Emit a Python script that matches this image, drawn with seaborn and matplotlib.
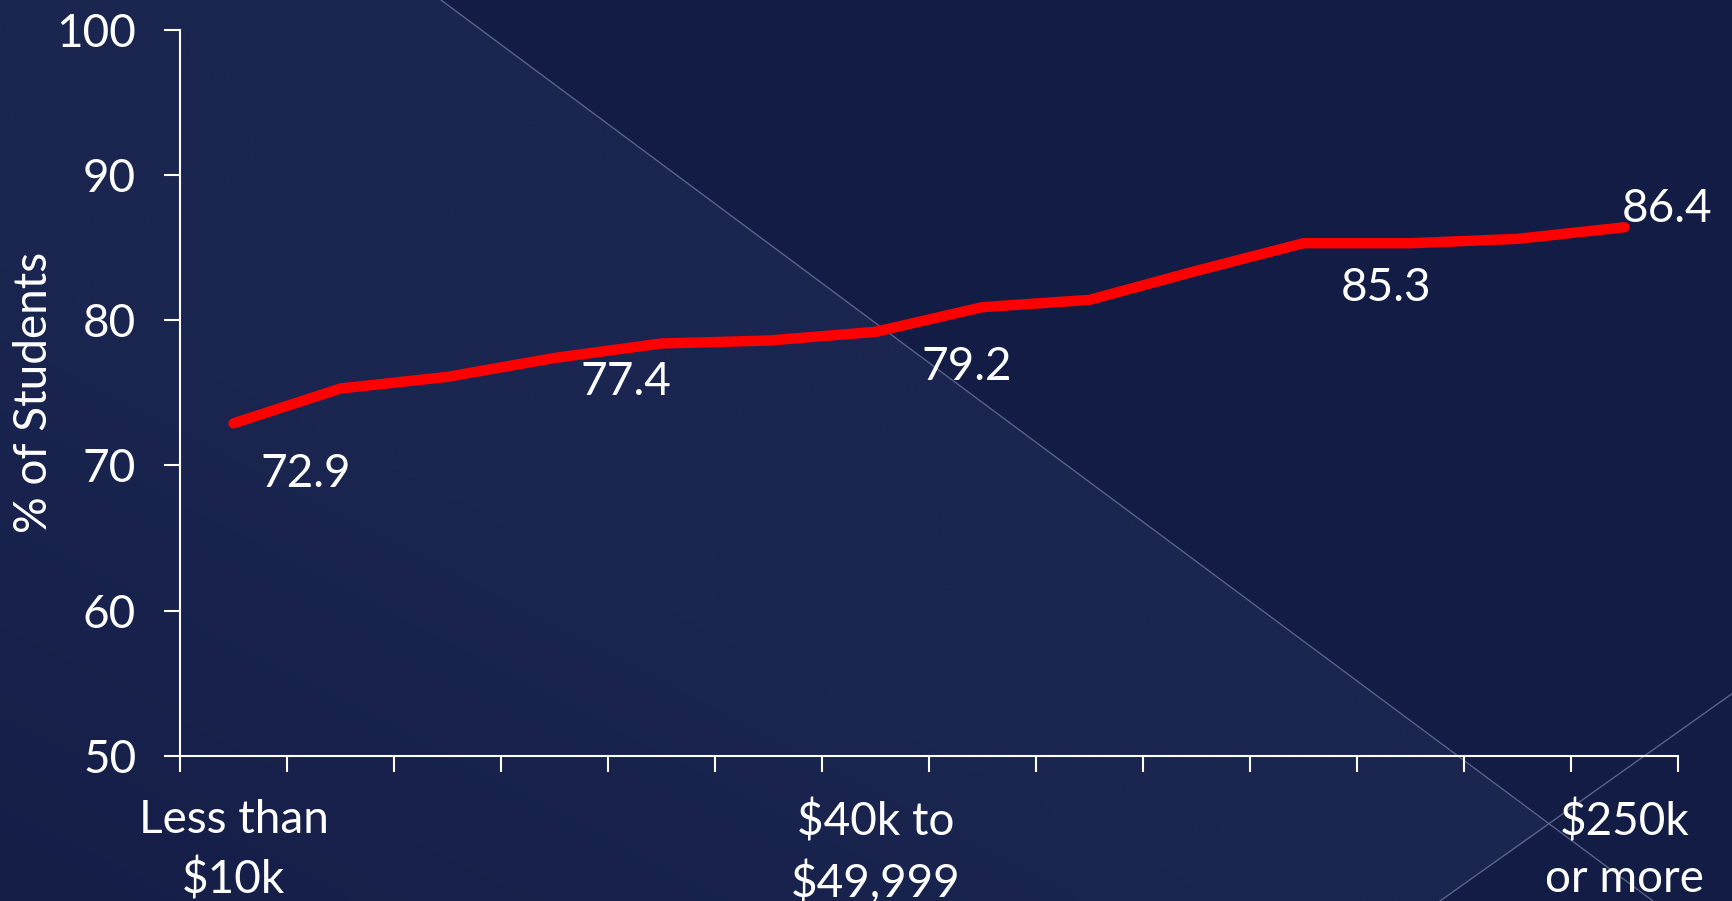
import numpy as np
import pandas as pd
import seaborn as sns
import matplotlib
matplotlib.use("Agg")
import matplotlib.pyplot as plt
from matplotlib.patches import Polygon
from matplotlib.colors import to_rgb

# ---------------- data ----------------
categories = ["Less than $10k", "$10k to $14,999", "$15k to $19,999", "$20k to $24,999",
              "$25k to $29,999", "$30k to $39,999", "$40k to $49,999", "$50k to $59,999",
              "$60k to $74,999", "$75k to $99,999", "$100k to $149,999", "$150k to $199,999",
              "$200k to $249,999", "$250k or more"]
pct_students = [72.9, 75.3, 76.1, 77.4, 78.4, 78.6, 79.2, 80.9, 81.4, 83.4, 85.3, 85.3, 85.6, 86.4]
shown_tick_idx = [0, 6, 13]
shown_tick_labels = ["Less than\n$10k", "$40k to\n$49,999", "$250k\nor more"]
annotated_idx = [0, 3, 6, 10, 13]
y_ticks = [50, 60, 70, 80, 90, 100]

# ---------------- style ----------------
sns.set_theme(style="ticks")
plt.rcParams["font.family"] = ["Lato", "DejaVu Sans"]
plt.rcParams["font.weight"] = "normal"
FS = 33

W, H = 1733, 901
fig = plt.figure(figsize=(W / 100, H / 100), dpi=100)
dark = "#131c44"
fig.patch.set_facecolor(dark)

# background axes (pixel coordinates, y downward)
bg = fig.add_axes([0, 0, 1, 1], zorder=-10)
bg.set_xlim(0, W)
bg.set_ylim(H, 0)
bg.axis("off")
poly = Polygon([(0, 0), (441, 0), (1549, 825), (1440, 901), (0, 901)],
               closed=True, facecolor="none", edgecolor="none")
bg.add_patch(poly)
gx, gy = np.meshgrid(np.linspace(0, 1, 200), np.linspace(0, 1, 120))
t = np.clip((gx + (1 - gy)) / 0.7, 0, 1)
c0, c1 = np.array(to_rgb("#151e47")), np.array(to_rgb("#1a2550"))
img = c0[None, None, :] * (1 - t[..., None]) + c1[None, None, :] * t[..., None]
im = bg.imshow(img, extent=[0, W, H, 0], aspect="auto", interpolation="bilinear")
im.set_clip_path(poly)
bg.set_xlim(0, W)
bg.set_ylim(H, 0)
bg.plot([441, 1653], [0, 901], color="#6a7398", lw=1.0, alpha=0.8)
bg.plot([1440, 1733], [901, 693], color="#6a7398", lw=1.0, alpha=0.8)

ax = fig.add_axes([180 / W, 1 - 756 / H, (1678 - 180) / W, (756 - 29.7) / H], zorder=1)
ax.set_facecolor("none")

df = pd.DataFrame({"pos": np.arange(len(categories)), "pct": pct_students, "cat": categories})
sns.lineplot(data=df, x="pos", y="pct", ax=ax, color="#ff0000", linewidth=7.5,
             sort=False, solid_capstyle="round", solid_joinstyle="miter")

ax.set_xlim(-0.5, len(categories) - 0.5)
ax.set_ylim(50, 100)

# x ticks at category boundaries (marks), labels on selected categories
ax.set_xticks(np.arange(len(categories) + 1) - 0.5)
ax.set_xticklabels([])
ax.set_xticks(shown_tick_idx, minor=True)
ax.set_xticklabels(shown_tick_labels, minor=True)
ax.tick_params(axis="x", which="major", length=11.5, width=1.5, color="white", direction="out")
ax.tick_params(axis="x", which="minor", length=0, pad=31, labelsize=FS, labelcolor="white")

ax.set_yticks(y_ticks)
ax.tick_params(axis="y", length=11.5, width=1.5, color="white", direction="out",
               pad=20, labelsize=FS, labelcolor="white")
for lab in ax.get_xticklabels(minor=True):
    lab.set_linespacing(1.45)

for side in ["top", "right"]:
    ax.spines[side].set_visible(False)
for side in ["left", "bottom"]:
    ax.spines[side].set_color("white")
    ax.spines[side].set_linewidth(1.5)

ax.set_xlabel("")
ax.set_ylabel("% of Students", color="white", fontsize=FS)
ax.yaxis.set_label_coords(-125 / (1678 - 180), 0.5)

# data labels (offsets in pixels from the point to the text centre)
label_offsets = {0: (72, -51), 3: (71, -24), 6: (91, -35), 10: (83, -45), 13: (43, 18)}
for i in annotated_idx:
    dx, dy = label_offsets[i]
    ax.annotate(f"{pct_students[i]:.1f}", xy=(i, pct_students[i]), xytext=(dx, dy),
                textcoords="offset pixels", ha="center", va="center",
                color="white", fontsize=FS)

fig.savefig("out.png", dpi=100, facecolor=fig.get_facecolor())
